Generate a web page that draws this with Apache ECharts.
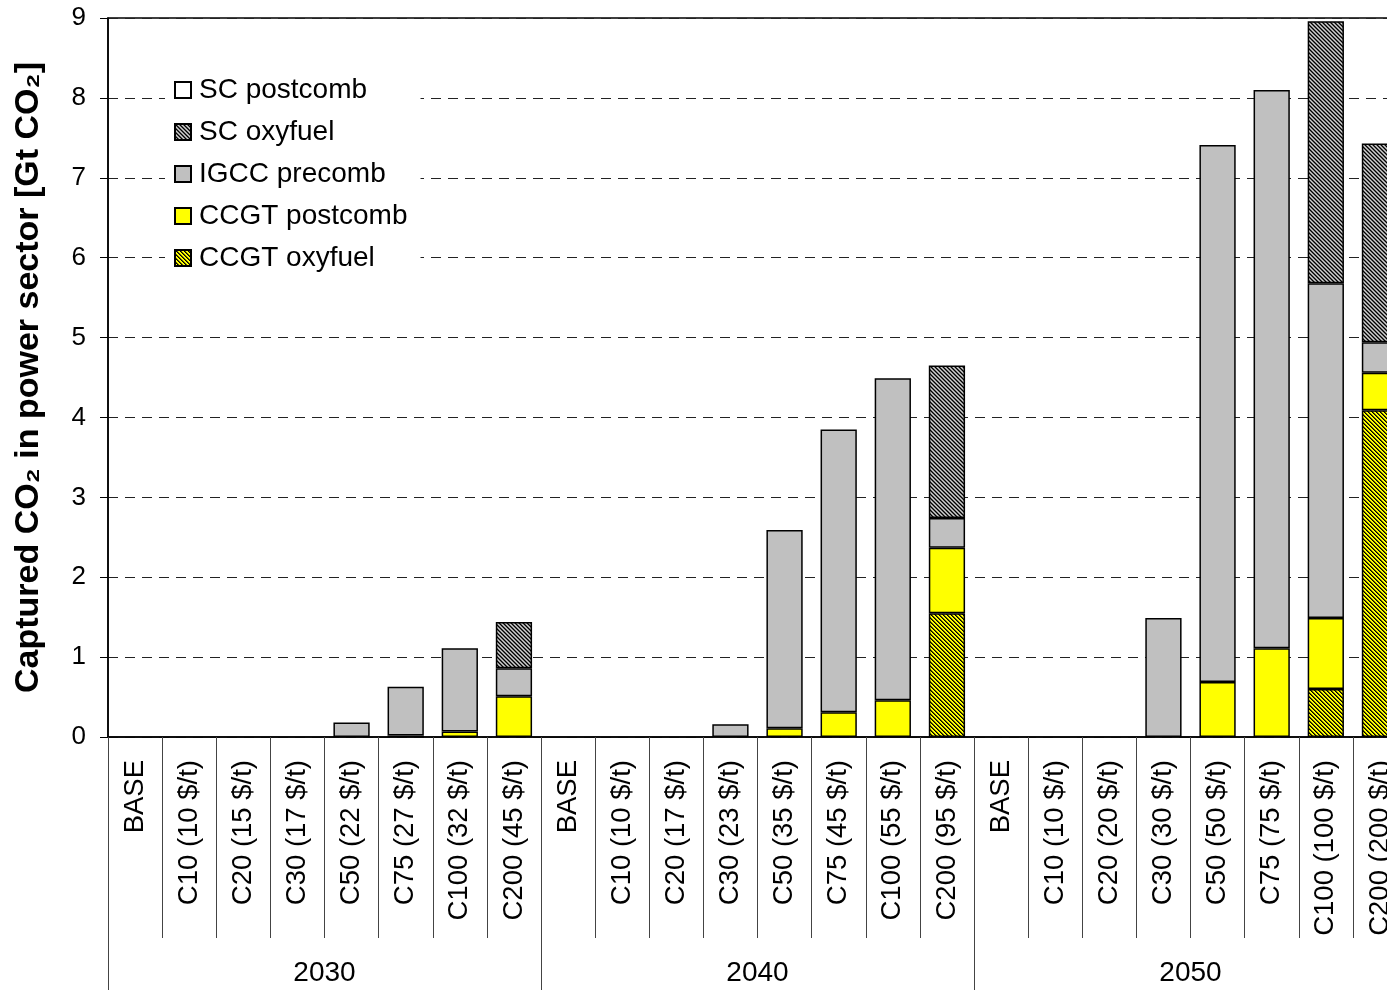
<!DOCTYPE html>
<html>
<head>
<meta charset="utf-8">
<script src="https://cdn.jsdelivr.net/npm/echarts@6/dist/echarts.min.js"></script>
<style>
  html, body { margin: 0; padding: 0; background: #fff; }
  #chart { width: 1387px; height: 990px; }
</style>
</head>
<body>
<div id="chart"></div>
<script>
// Scenario labels per milestone year
const years = ['2030', '2040', '2050'];
const cats2030 = ['BASE', 'C10 (10 $/t)', 'C20 (15 $/t)', 'C30 (17 $/t)', 'C50 (22 $/t)', 'C75 (27 $/t)', 'C100 (32 $/t)', 'C200 (45 $/t)'];
const cats2040 = ['BASE', 'C10 (10 $/t)', 'C20 (17 $/t)', 'C30 (23 $/t)', 'C50 (35 $/t)', 'C75 (45 $/t)', 'C100 (55 $/t)', 'C200 (95 $/t)'];
const cats2050 = ['BASE', 'C10 (10 $/t)', 'C20 (20 $/t)', 'C30 (30 $/t)', 'C50 (50 $/t)', 'C75 (75 $/t)', 'C100 (100 $/t)', 'C200 (200 $/t)'];

// Captured CO2 [Gt] by capture technology (2030 | 2040 | 2050)
const ccgtOxyfuel  = [0, 0, 0, 0, 0, 0, 0, 0,      0, 0, 0, 0, 0, 0, 0, 1.55,      0, 0, 0, 0, 0, 0, 0.60, 4.09];
const ccgtPostcomb = [0, 0, 0, 0, 0, 0.02, 0.07, 0.51, 0, 0, 0, 0, 0.11, 0.31, 0.46, 0.82, 0, 0, 0, 0, 0.69, 1.11, 0.89, 0.47];
const igccPrecomb  = [0, 0, 0, 0, 0.18, 0.61, 1.04, 0.35, 0, 0, 0, 0.16, 2.48, 3.54, 4.03, 0.37, 0, 0, 0, 1.49, 6.72, 6.99, 4.19, 0.38];
const scOxyfuel    = [0, 0, 0, 0, 0, 0, 0, 0.58,   0, 0, 0, 0, 0, 0, 0, 1.91,      0, 0, 0, 0, 0, 0, 3.28, 2.49];
const scPostcomb   = [0, 0, 0, 0, 0, 0, 0, 0,      0, 0, 0, 0, 0, 0, 0, 0,         0, 0, 0, 0, 0, 0, 0, 0];

const yTicks = { min: 0, max: 9, step: 1 };

const categories = cats2030.concat(cats2040, cats2050);
const FONT = "'Liberation Sans', Arial, sans-serif";

// Diagonal hatch fill tile (4 px period, lines running down to the right)
function hatch(shades) {
  const c = document.createElement('canvas');
  c.width = 4; c.height = 4;
  const g = c.getContext('2d');
  for (let y = 0; y < 4; y++) {
    for (let x = 0; x < 4; x++) {
      g.fillStyle = shades[(x - y + 8) % 4];
      g.fillRect(x, y, 1, 1);
    }
  }
  return { image: c, repeat: 'repeat' };
}

const nz = arr => arr.map(v => (v === 0 ? '-' : v));

const border = { borderColor: '#000', borderWidth: 1.5 };
function bar(name, data, color) {
  return {
    name, type: 'bar', stack: 'total', data: nz(data),
    barCategoryGap: '33%',
    itemStyle: Object.assign({ color }, border),
    emphasis: { disabled: true }
  };
}

const chart = echarts.init(document.getElementById('chart'), null, { renderer: 'canvas' });
chart.setOption({
  animation: false,
  backgroundColor: '#fff',
  textStyle: { fontFamily: FONT },
  grid: {
    left: 108, top: 18, width: 1299, height: 719,
    outerBoundsMode: 'none', containLabel: false,
    show: true, borderColor: '#000', borderWidth: 1.5, backgroundColor: 'transparent'
  },
  legend: {
    orient: 'vertical', left: 165, top: 70,
    backgroundColor: '#fff',
    padding: [6, 13, 6, 9],
    icon: 'rect',
    itemWidth: 16, itemHeight: 16, itemGap: 14,
    textStyle: { fontSize: 28, color: '#000', fontFamily: FONT, padding: [0, 0, 0, 3] },
    data: ['SC postcomb', 'SC oxyfuel', 'IGCC precomb', 'CCGT postcomb', 'CCGT oxyfuel']
  },
  xAxis: [
    {
      type: 'category', position: 'bottom', data: categories,
      axisLine: { show: true, lineStyle: { color: '#000', width: 1.5 } },
      axisTick: { show: true, interval: 0, length: 201, lineStyle: { color: '#444', width: 1 } },
      axisLabel: { interval: 0, rotate: 90, margin: 23, fontSize: 27.5, color: '#000', fontFamily: FONT },
      splitLine: { show: false }
    },
    {
      type: 'category', position: 'bottom', data: years,
      axisLine: { show: false },
      axisTick: { show: true, interval: 0, length: 253, lineStyle: { color: '#444', width: 1 } },
      axisLabel: { interval: 0, margin: 222, fontSize: 28, color: '#000', fontFamily: FONT },
      splitLine: { show: false }
    }
  ],
  yAxis: {
    type: 'value', min: yTicks.min, max: yTicks.max, interval: yTicks.step,
    name: 'Captured CO\u2082 in power sector [Gt CO\u2082]',
    nameLocation: 'middle', nameRotate: 90, nameGap: 62,
    nameTextStyle: { fontSize: 34, fontWeight: 'bold', color: '#000', fontFamily: FONT },
    axisLine: { show: true, lineStyle: { color: '#000', width: 1.5 } },
    axisTick: { show: true, length: 8, lineStyle: { color: '#000' } },
    axisLabel: { margin: 22, fontSize: 26, color: '#000', fontFamily: FONT },
    splitLine: { show: true, lineStyle: { color: '#222', width: 1, type: [10, 7] } }
  },
  series: [
    bar('CCGT oxyfuel', ccgtOxyfuel, hatch(['#000000', '#5a5a00', '#ffff00', '#ffff00'])),
    bar('CCGT postcomb', ccgtPostcomb, '#ffff00'),
    bar('IGCC precomb', igccPrecomb, '#c0c0c0'),
    bar('SC oxyfuel', scOxyfuel, hatch(['#000000', '#606060', '#d0d0d0', '#808080'])),
    bar('SC postcomb', scPostcomb, '#ffffff')
  ]
});
</script>
</body>
</html>
